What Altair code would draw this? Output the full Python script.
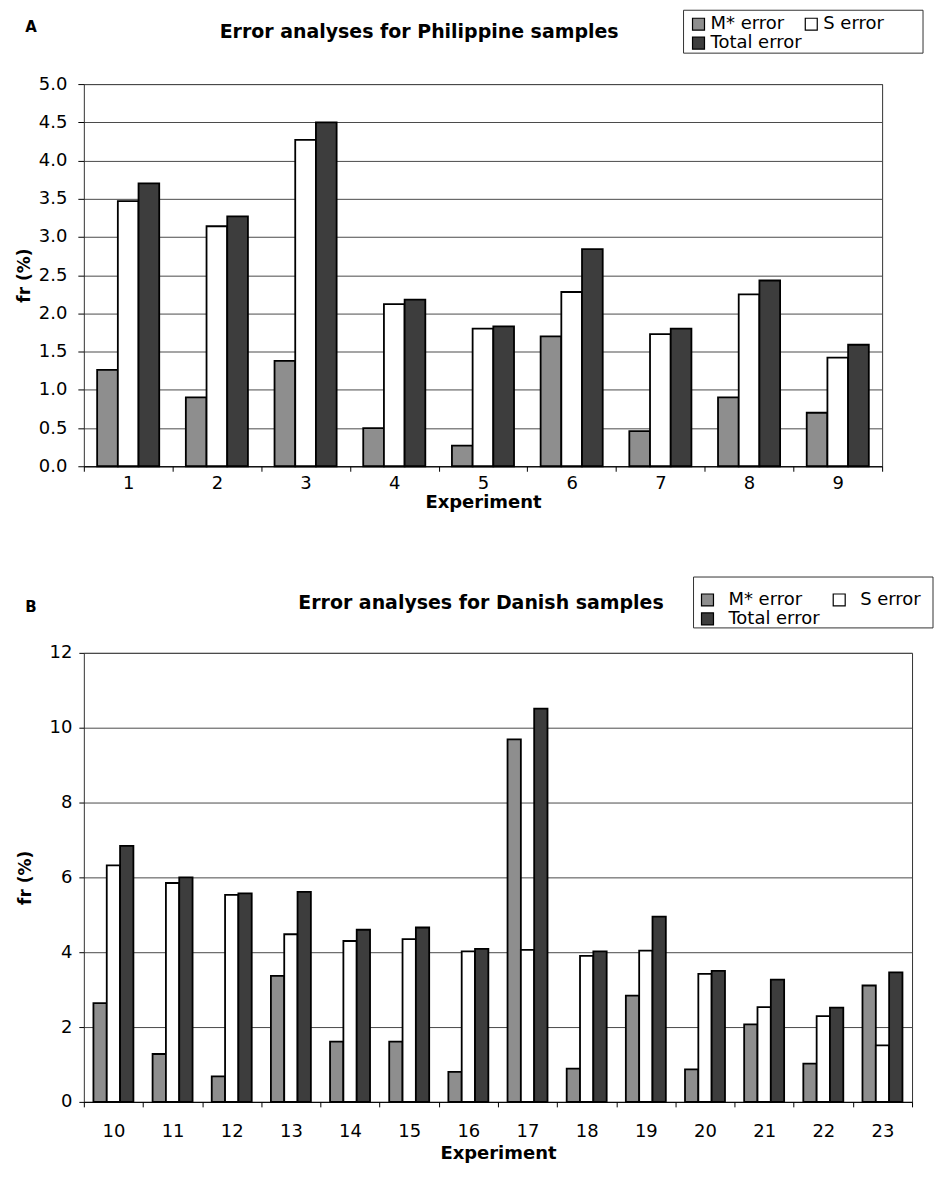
import altair as alt
import pandas as pd

# ---------------- data ----------------
series = ["M* error", "S error", "Total error"]
# legend order (column-major fill in a 2-column legend gives: M*, S / Total)
legend_order = ["M* error", "Total error", "S error"]
legend_colors = ["#8e8e8e", "#3d3d3d", "#ffffff"]

exp_A = ["1", "2", "3", "4", "5", "6", "7", "8", "9"]
mstar_A = [1.26, 0.90, 1.38, 0.50, 0.27, 1.70, 0.46, 0.90, 0.70]
s_A = [3.47, 3.14, 4.27, 2.12, 1.80, 2.28, 1.73, 2.25, 1.42]
tot_A = [3.70, 3.27, 4.50, 2.18, 1.83, 2.84, 1.80, 2.43, 1.59]
yticks_A = [0.0, 0.5, 1.0, 1.5, 2.0, 2.5, 3.0, 3.5, 4.0, 4.5, 5.0]

exp_B = ["10", "11", "12", "13", "14", "15", "16", "17", "18", "19", "20", "21", "22", "23"]
mstar_B = [2.64, 1.28, 0.68, 3.37, 1.61, 1.61, 0.80, 9.69, 0.89, 2.84, 0.87, 2.07, 1.02, 3.11]
s_B = [6.32, 5.85, 5.53, 4.48, 4.30, 4.35, 4.02, 4.06, 3.90, 4.04, 3.42, 2.53, 2.29, 1.51]
tot_B = [6.84, 6.00, 5.57, 5.61, 4.60, 4.66, 4.09, 10.51, 4.02, 4.95, 3.50, 3.27, 2.52, 3.46]
yticks_B = [0, 2, 4, 6, 8, 10, 12]

title_A = "Error analyses for Philippine samples"
title_B = "Error analyses for Danish samples"


def long_df(exps, m, s, t):
    rows = []
    for e, a, b, c in zip(exps, m, s, t):
        rows.append({"exp": e, "series": series[0], "value": a})
        rows.append({"exp": e, "series": series[1], "value": b})
        rows.append({"exp": e, "series": series[2], "value": c})
    return pd.DataFrame(rows)


FONT = "DejaVu Sans"


def panel(df, exps, yticks, yfmt, width, height, off_pad, cfg):
    bars = alt.Chart(df).mark_bar(stroke="black", strokeWidth=1.8).encode(
        x=alt.X("exp:N", sort=exps,
                scale=alt.Scale(paddingInner=0, paddingOuter=0),
                axis=alt.Axis(title="Experiment", labelAngle=0, tickBand="extent",
                              labelFontSize=18, labelFont=FONT, labelColor="black",
                              titleFontSize=18, titleFont=FONT, titleFontWeight="bold",
                              titleColor="black", titlePadding=cfg["xtitlepad"],
                              tickSize=5, tickColor="black", domainColor="black",
                              labelPadding=cfg["xlabelpad"], grid=False)),
        xOffset=alt.XOffset("series:N", sort=series,
                            scale=alt.Scale(paddingOuter=off_pad, paddingInner=0)),
        y=alt.Y("value:Q",
                scale=alt.Scale(domain=[yticks[0], yticks[-1]], nice=False),
                axis=alt.Axis(title="fr (%)", values=yticks, format=yfmt,
                              labelFontSize=18, labelFont=FONT, labelColor="black",
                              titleFontSize=17, titleFont=FONT, titleFontWeight="bold",
                              titleColor="black", titlePadding=cfg["ytitlepad"],
                              tickSize=cfg["ytick"], tickColor="black", domain=False,
                              labelPadding=cfg["ylabelpad"],
                              grid=True, gridColor="#4a4a4a", gridWidth=1)),
        color=alt.Color("series:N", sort=legend_order,
                        scale=alt.Scale(domain=legend_order, range=legend_colors),
                        legend=alt.Legend(title=None, orient="none",
                                          legendX=cfg["legx"], legendY=cfg["legy"],
                                          columns=2, columnPadding=cfg["colpad"],
                                          rowPadding=1, padding=0,
                                          symbolType="square", symbolSize=144,
                                          symbolStrokeColor="black", symbolStrokeWidth=1.2,
                                          symbolOpacity=1,
                                          labelFontSize=18, labelFont=FONT,
                                          labelColor="black", labelOffset=cfg["laboff"])),
    )
    box = alt.Chart(pd.DataFrame({"k": [0]})).mark_rect(
        fill="white", stroke="#333333", strokeWidth=1
    ).encode(
        x=alt.value(cfg["box"][0]), x2=alt.value(cfg["box"][1]),
        y=alt.value(cfg["box"][2]), y2=alt.value(cfg["box"][3]),
    )
    ttl = alt.Chart(pd.DataFrame({"t": [cfg["title"]]})).mark_text(
        font=FONT, fontSize=19, fontWeight="bold", align="center",
        baseline="middle", color="black"
    ).encode(text="t:N", x=alt.value(cfg["tx"]), y=alt.value(cfg["ty"]))
    lab = alt.Chart(pd.DataFrame({"t": [cfg["letter"]]})).mark_text(
        font=FONT, fontSize=15, fontWeight="bold", align="center",
        baseline="middle", color="black"
    ).encode(text="t:N", x=alt.value(cfg["lx"]), y=alt.value(cfg["ly"]))
    return alt.layer(box, bars, ttl, lab).properties(width=width, height=height)


dfA = long_df(exp_A, mstar_A, s_A, tot_A)
dfB = long_df(exp_B, mstar_B, s_B, tot_B)

cfgA = dict(xtitlepad=1, xlabelpad=3, ytitlepad=5, ytick=6, ylabelpad=11,
            legx=607, legy=-69, colpad=0, laboff=3,
            box=(601, 841, -74, -31), title=title_A, tx=336, ty=-52,
            letter="A", lx=-53, ly=-57)
cfgB = dict(xtitlepad=4, xlabelpad=16, ytitlepad=15, ytick=5, ylabelpad=7,
            legx=616, legy=-62, colpad=10, laboff=12,
            box=(611, 851, -76, -25), title=title_B, tx=398, ty=-50,
            letter="B", lx=-53, ly=-46)

chartA = panel(dfA, exp_A, yticks_A, ".1f", 800, 383, 0.643, cfgA)
chartB = panel(dfB, exp_B, yticks_B, "d", 830, 450, 0.72, cfgB)

chart = alt.concat(chartA, chartB, columns=1, spacing=64).resolve_scale(
    color="independent", xOffset="independent", x="independent", y="independent"
).resolve_legend(color="independent").configure_view(
    stroke="#333333", strokeWidth=1
).properties(
    padding={"left": 6, "top": 0, "right": 0, "bottom": 0}
)

chart.save("out.html", embed_options={"renderer": "svg", "actions": False})
